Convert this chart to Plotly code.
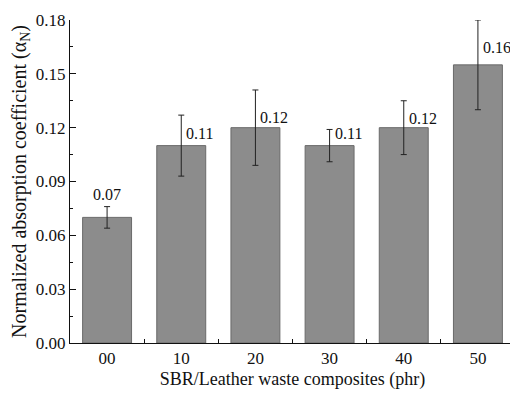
import plotly.graph_objects as go

categories = ["00", "10", "20", "30", "40", "50"]
values = [0.07, 0.11, 0.12, 0.11, 0.12, 0.155]
errors = [0.006, 0.017, 0.021, 0.009, 0.015, 0.025]
labels = ["0.07", "0.11", "0.12", "0.11", "0.12", "0.16"]
y_ticks = [0.00, 0.03, 0.06, 0.09, 0.12, 0.15, 0.18]

FONT = "Liberation Serif, Times New Roman, serif"

fig = go.Figure()
fig.add_trace(go.Bar(
    x=list(range(len(categories))), y=values, width=0.66,
    marker=dict(color="#8c8c8c", line=dict(color="#6a6a6a", width=1)),
    error_y=dict(type="data", array=errors, visible=True, color="#222222",
                 thickness=1, width=3),
    showlegend=False,
))

label_shift = [0, 12, 10, 12, 9, 17]
for i, (v, e, t) in enumerate(zip(values, errors, labels)):
    if i == 0:
        fig.add_annotation(x=i, y=v + e, text=t, showarrow=False,
                           xanchor="center", yanchor="bottom", yshift=2,
                           font=dict(family=FONT, size=16, color="#111"))
    else:
        fig.add_annotation(x=i, y=v, text=t, showarrow=False,
                           xanchor="left", yanchor="middle", xshift=3,
                           yshift=label_shift[i],
                           font=dict(family=FONT, size=16, color="#111"))

# the page body has an 8px margin, so the figure is sized to the visible area
fig.update_layout(
    width=510, height=387,
    margin=dict(l=62, r=3, t=10, b=52),
    paper_bgcolor="white", plot_bgcolor="white",
    font=dict(family=FONT, color="#111", size=17),
    xaxis=dict(
        range=[-0.5, 5.5], tickvals=list(range(len(categories))),
        ticktext=categories, ticks="", showline=True, linecolor="#111",
        linewidth=1, showgrid=False, zeroline=False,
        tickfont=dict(family=FONT, size=17),
        minor=dict(tickvals=[0.5, 1.5, 2.5, 3.5, 4.5, 5.5], ticks="inside",
                   ticklen=4, tickcolor="#111"),
        title=dict(text="SBR/Leather waste composites (phr)",
                   font=dict(family=FONT, size=18), standoff=4),
    ),
    yaxis=dict(
        range=[0, 0.18], tickvals=y_ticks,
        ticktext=[f"{v:.2f}" for v in y_ticks], ticks="inside", ticklen=6,
        tickcolor="#111", showline=True, linecolor="#111", linewidth=1,
        showgrid=False, zeroline=False,
        tickfont=dict(family=FONT, size=17),
        minor=dict(dtick=0.015, ticks="inside", ticklen=3, tickcolor="#111"),
        title=dict(text="Normalized absorption coefficient (α<sub>N</sub>)",
                   font=dict(family=FONT, size=20), standoff=6),
    ),
)

fig.write_html("out.html")
